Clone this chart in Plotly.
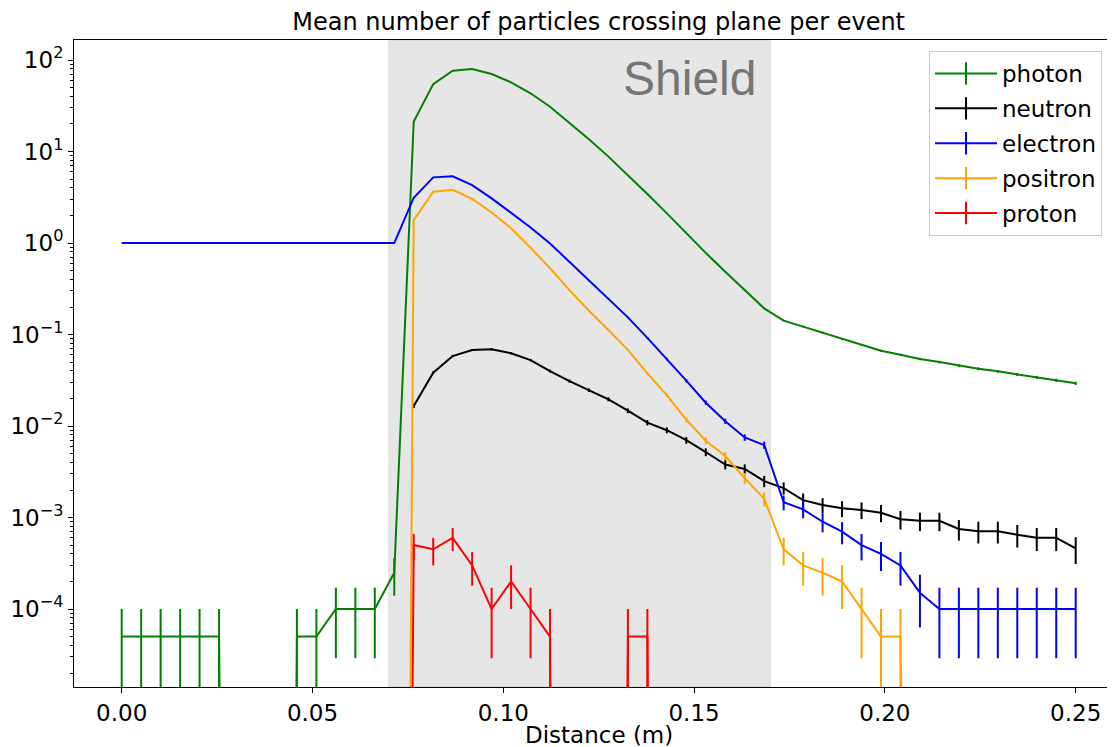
import plotly.graph_objects as go

# ---------------- data ----------------
distance = [0.0, 0.005102, 0.010204, 0.015306, 0.020408, 0.02551, 0.030612, 0.035714,
            0.040816, 0.045918, 0.05102, 0.056122, 0.061224, 0.066327, 0.071429, 0.076531,
            0.081633, 0.086735, 0.091837, 0.096939, 0.102041, 0.107143, 0.112245, 0.117347,
            0.122449, 0.127551, 0.132653, 0.137755, 0.142857, 0.147959, 0.153061, 0.158163,
            0.163265, 0.168367, 0.173469, 0.178571, 0.183673, 0.188776, 0.193878, 0.19898,
            0.204082, 0.209184, 0.214286, 0.219388, 0.22449, 0.229592, 0.234694, 0.239796,
            0.244898, 0.25]

photon = [5e-5, 5e-5, 5e-5, 5e-5, 5e-5, 5e-5, 0, 0, 0, 5e-5, 5e-5, 1e-4, 1e-4, 1e-4, 2.5e-4,
          21.3, 54.5, 76.5, 80.0, 70.3, 57.0, 43.3, 30.9, 20.6, 13.6, 8.8, 5.54, 3.43, 2.11,
          1.28, 0.78, 0.486, 0.306, 0.193, 0.142, 0.122, 0.105, 0.089, 0.077, 0.0665, 0.060,
          0.054, 0.050, 0.0456, 0.0423, 0.0396, 0.0367, 0.034, 0.0316, 0.0293]
photon_err = [5e-5, 5e-5, 5e-5, 5e-5, 5e-5, 5e-5, 0, 0, 0, 5e-5, 5e-5, 7.1e-5, 7.1e-5, 7.1e-5,
              1.1e-4, 0.033, 0.052, 0.062, 0.063, 0.059, 0.053, 0.047, 0.039, 0.032, 0.026,
              0.021, 0.017, 0.013, 0.010, 0.008, 0.0062, 0.0049, 0.0039, 0.0031, 0.0027,
              0.0025, 0.0023, 0.0021, 0.0020, 0.0018, 0.0017, 0.0016, 0.0016, 0.0015, 0.0015,
              0.0014, 0.0014, 0.0013, 0.0013, 0.0012]

neutron = [None] * 15 + [
    0.0166, 0.0383, 0.0582, 0.0678, 0.0689, 0.0624, 0.0526, 0.0399, 0.031, 0.0247, 0.0196,
    0.0147, 0.0109, 0.0090, 0.0070, 0.0052, 0.0038, 0.0034, 0.0025, 0.0021, 0.00155,
    0.00137, 0.00126, 0.00121, 0.00113, 0.00096, 0.00092, 0.00092, 0.00075, 0.00071,
    0.00071, 0.00065, 0.00060, 0.00060, 0.00046]
neutron_err = [None] * 15 + [
    9.1e-4, 1.4e-3, 1.7e-3, 1.8e-3, 1.9e-3, 1.8e-3, 1.6e-3, 1.4e-3, 1.2e-3, 1.1e-3, 9.9e-4,
    8.6e-4, 7.4e-4, 6.7e-4, 5.9e-4, 5.1e-4, 4.4e-4, 4.1e-4, 3.5e-4, 3.2e-4, 2.8e-4, 2.6e-4,
    2.5e-4, 2.5e-4, 2.4e-4, 2.2e-4, 2.1e-4, 2.1e-4, 1.9e-4, 1.9e-4, 1.9e-4, 1.8e-4, 1.7e-4,
    1.7e-4, 1.5e-4]

electron = [1.0] * 15 + [
    3.13, 5.22, 5.36, 4.3, 3.08, 2.16, 1.48, 0.99, 0.625, 0.385, 0.248, 0.154, 0.092, 0.054,
    0.0313, 0.018, 0.0113, 0.0075, 0.0062, 0.00147, 0.00123, 0.0009, 0.0007, 0.0005, 0.0004,
    0.0003, 0.00015, 1e-4, 1e-4, 1e-4, 1e-4, 1e-4, 1e-4, 1e-4, 1e-4]
electron_err = [0] * 15 + [
    0.0125, 0.016, 0.016, 0.015, 0.012, 0.010, 0.0086, 0.007, 0.0056, 0.0044, 0.0035, 0.0028,
    0.0021, 0.0016, 0.0013, 9.5e-4, 7.5e-4, 6.1e-4, 5.6e-4, 2.7e-4, 2.5e-4, 2.1e-4, 1.9e-4,
    1.6e-4, 1.4e-4, 1.2e-4, 8.7e-5, 7.1e-5, 7.1e-5, 7.1e-5, 7.1e-5, 7.1e-5, 7.1e-5, 7.1e-5,
    7.1e-5]

positron = [0] * 15 + [
    1.78, 3.64, 3.83, 3.03, 2.16, 1.45, 0.89, 0.53, 0.306, 0.182, 0.112, 0.068, 0.0377,
    0.0218, 0.0117, 0.0069, 0.0047, 0.0027, 0.0016, 0.00045, 0.0003, 0.00025, 0.0002, 1e-4,
    5e-5, 5e-5, 0, 0, 0, 0, 0, 0, 0, 0, 0]
positron_err = [0] * 15 + [
    0.0094, 0.0135, 0.0138, 0.0123, 0.0104, 0.0085, 0.0067, 0.0051, 0.0039, 0.0030, 0.0024,
    0.0018, 0.0014, 0.0010, 7.6e-4, 5.9e-4, 4.8e-4, 3.7e-4, 2.8e-4, 1.5e-4, 1.2e-4, 1.1e-4,
    1.0e-4, 7.1e-5, 5e-5, 5e-5, 0, 0, 0, 0, 0, 0, 0, 0, 0]

proton = [0] * 15 + [5e-4, 4.5e-4, 6e-4, 3e-4, 1e-4, 2e-4, 1e-4, 5e-5, 0, 0, 0, 5e-5, 5e-5] + [0] * 22
proton_err = [0] * 15 + [1.6e-4, 1.5e-4, 1.7e-4, 1.2e-4, 7.1e-5, 1e-4, 7.1e-5, 5e-5, 0, 0, 0,
                         5e-5, 5e-5] + [0] * 22

series = [
    ("photon", photon, photon_err, "green"),
    ("neutron", neutron, neutron_err, "black"),
    ("electron", electron, electron_err, "blue"),
    ("positron", positron, positron_err, "orange"),
    ("proton", proton, proton_err, "red"),
]

x_ticks = [0.0, 0.05, 0.10, 0.15, 0.20, 0.25]
x_tick_labels = ["0.00", "0.05", "0.10", "0.15", "0.20", "0.25"]
y_ticks = [1e-4, 1e-3, 1e-2, 1e-1, 1, 10, 100]
y_tick_labels = ["10<sup>\u22124</sup>", "10<sup>\u22123</sup>", "10<sup>\u22122</sup>",
                 "10<sup>\u22121</sup>", "10<sup>0</sup>", "10<sup>1</sup>", "10<sup>2</sup>"]
shield_start, shield_end = 0.07, 0.17

# zero counts on a log axis: drawn as a drop far below the axis (as matplotlib clips them)
LOG_FLOOR = 1e-30


def for_log(vals):
    return [None if v is None else (LOG_FLOOR if v == 0 else v) for v in vals]


FONT = "DejaVu Sans"
# the page body has an 8px margin, so the figure is sized to fill the window exactly
FIG_W, FIG_H = 1107, 739
PLOT_H = 647

fig = go.Figure()

for name, vals, errs, color in series:
    fig.add_trace(go.Scatter(
        x=distance, y=for_log(vals), mode="lines", name=name,
        line=dict(color=color, width=2),
        error_y=dict(type="data", array=[0 if e is None else e for e in errs],
                     visible=True, color=color, thickness=2, width=0),
        showlegend=False, hoverinfo="skip",
    ))

# legend entries (cross symbol like matplotlib errorbar handles)
for name, vals, errs, color in series:
    fig.add_trace(go.Scatter(
        x=[None], y=[None], mode="lines+markers", name=name, legendgroup=name,
        line=dict(color=color, width=2),
        marker=dict(symbol="line-ns", size=16, color=color,
                    line=dict(color=color, width=2)),
        showlegend=True,
    ))

fig.add_shape(type="rect", xref="x", yref="paper", x0=shield_start, x1=shield_end,
              y0=0, y1=1, fillcolor="rgba(128,128,128,0.2)",
              line=dict(color="rgba(128,128,128,0.2)", width=1), layer="below")

fig.add_annotation(text="Shield", xref="x", yref="paper", x=0.1668, y=0.940,
                   xanchor="right", yanchor="middle", showarrow=False,
                   font=dict(family="Liberation Sans", size=48, color="#767676"))

fig.add_annotation(text="Distance (m)", xref="paper", yref="paper", x=0.504,
                   y=-(735 - 687) / PLOT_H, xanchor="center", yanchor="middle", showarrow=False,
                   font=dict(family=FONT, size=23, color="black"))

minor_vals = [m * 10 ** k for k in range(-5, 3) for m in range(2, 10)]

fig.update_layout(
    width=FIG_W, height=FIG_H,
    margin=dict(l=66, r=0, t=32, b=60, autoexpand=False),
    paper_bgcolor="white", plot_bgcolor="white",
    font=dict(family=FONT, size=23, color="black"),
    title=dict(text="Mean number of particles crossing plane per event",
               x=0.504, xref="paper", xanchor="center",
               y=1 - 14 / FIG_H, yref="container", yanchor="middle",
               font=dict(family=FONT, size=24, color="black")),
    xaxis=dict(range=[-0.0125, 0.2603], tickvals=x_ticks, ticktext=x_tick_labels,
               ticks="outside", ticklen=5, tickwidth=1, tickcolor="black",
               showline=True, linecolor="black", linewidth=1, mirror=True,
               showgrid=False, zeroline=False, tickfont=dict(size=23), automargin=False),
    yaxis=dict(type="log", range=[-4.852, 2.219], tickvals=y_ticks, ticktext=y_tick_labels,
               ticks="outside", ticklen=5, tickwidth=1, tickcolor="black",
               showline=True, linecolor="black", linewidth=1, mirror=False,
               showgrid=False, zeroline=False, tickfont=dict(size=23), automargin=False,
               minor=dict(tickvals=minor_vals, ticks="outside", ticklen=3,
                          tickcolor="black", tickwidth=1, showgrid=False)),
    legend=dict(x=(929 - 74) / 1041, y=1 - (51 - 40) / PLOT_H, xanchor="left", yanchor="top",
                bgcolor="rgba(255,255,255,0.8)", bordercolor="#cccccc", borderwidth=1,
                font=dict(family=FONT, size=23), itemwidth=62, tracegroupgap=2),
)

fig.write_html("out.html")
